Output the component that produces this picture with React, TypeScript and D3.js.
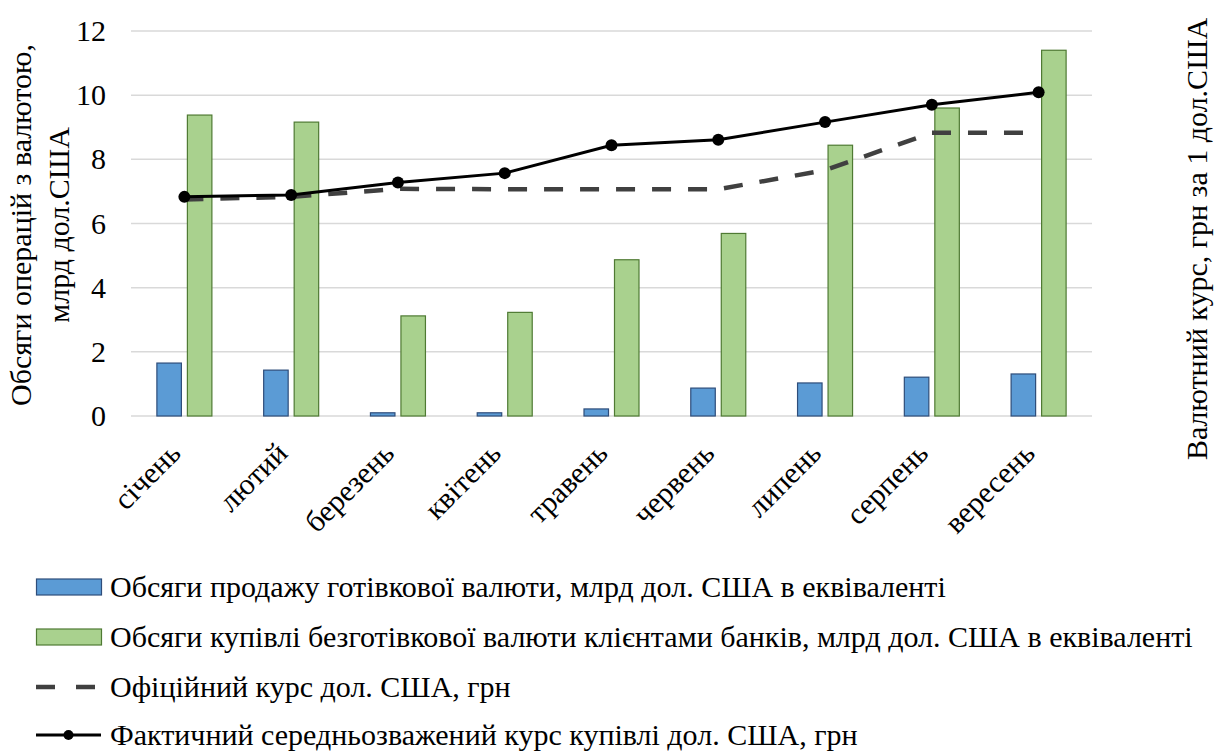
import React from "react";
import * as d3 from "d3";

const months = ["січень", "лютий", "березень", "квітень", "травень", "червень", "липень", "серпень", "вересень"];
const cashSales = [1.65, 1.43, 0.1, 0.1, 0.22, 0.87, 1.03, 1.21, 1.31];
const nonCashPurchases = [9.38, 9.16, 3.12, 3.23, 4.87, 5.69, 8.44, 9.6, 11.4];
const officialRate = [6.75, 6.83, 7.08, 7.07, 7.07, 7.07, 7.66, 8.83, 8.83];
const actualRate = [6.83, 6.89, 7.28, 7.57, 8.44, 8.61, 9.16, 9.7, 10.09];
const yTicks = [0, 2, 4, 6, 8, 10, 12];
const legendLabels = [
  "Обсяги продажу готівкової валюти, млрд дол. США в еквіваленті",
  "Обсяги купівлі безготівкової валюти клієнтами банків, млрд дол. США в еквіваленті",
  "Офіційний курс дол. США, грн",
  "Фактичний середньозважений курс купівлі дол. США, грн",
];

const W = 1230;
const H = 753;
const PL = 131;
const PR = 1092;
const PT = 31;
const PB = 416;
const FONT_STACK = "Liberation Serif";

function T(props: any) {
  const { children, ...rest } = props;
  return (
    <text {...rest} style={{ fontFamily: FONT_STACK }} fill="#000">
      {children}
    </text>
  );
}

export default function App() {
  const x = d3.scaleBand<string>().domain(months).range([PL, PR]).paddingInner(0).paddingOuter(0);
  const y = d3.scaleLinear().domain([0, 12]).range([PB, PT]);
  const bw = 24.5;
  const gap = 6;
  const cx = (m: string) => (x(m) as number) + x.bandwidth() / 2;
  const line = d3
    .line<number>()
    .x((_, i) => cx(months[i]))
    .y((d) => y(d));

  const legendY = [587, 637, 687, 735];

  return (
    <svg width={W} height={H} style={{ position: "absolute", left: 0, top: 0, background: "#fff" }}>
      {yTicks.map((t) => (
        <g key={t}>
          <line x1={PL} x2={PR} y1={y(t)} y2={y(t)} stroke="#d9d9d9" strokeWidth={1.5} />
          <T x={106} y={y(t) + 10} textAnchor="end" fontSize={30}>
            {t}
          </T>
        </g>
      ))}
      {months.map((m, i) => (
        <g key={m}>
          <rect
            x={cx(m) - gap / 2 - bw}
            y={y(cashSales[i])}
            width={bw}
            height={PB - y(cashSales[i])}
            fill="#5b9bd5"
            stroke="#2e4d7a"
            strokeWidth={1.2}
          />
          <rect
            x={cx(m) + gap / 2}
            y={y(nonCashPurchases[i])}
            width={bw}
            height={PB - y(nonCashPurchases[i])}
            fill="#a9d18e"
            stroke="#4f7a33"
            strokeWidth={1.2}
          />
          <T transform={`translate(${cx(m) - 2},${455}) rotate(-45)`} textAnchor="end" fontSize={30}>
            {m}
          </T>
        </g>
      ))}
      <path d={line(officialRate) || ""} fill="none" stroke="#404040" strokeWidth={4.5} strokeDasharray="19 17" />
      <path d={line(actualRate) || ""} fill="none" stroke="#000" strokeWidth={3} />
      {actualRate.map((v, i) => (
        <circle key={i} cx={cx(months[i])} cy={y(v)} r={6} fill="#000" />
      ))}
      <T transform={`translate(31,225) rotate(-90)`} textAnchor="middle" fontSize={30}>
        Обсяги операцій з валютою,
      </T>
      <T transform={`translate(69,225) rotate(-90)`} textAnchor="middle" fontSize={30}>
        млрд дол.США
      </T>
      <T transform={`translate(1207,239) rotate(-90)`} textAnchor="middle" fontSize={30}>
        Валютний курс, грн за 1 дол.США
      </T>
      <rect x={36.5} y={legendY[0] - 8} width={65} height={16} fill="#5b9bd5" stroke="#2e4d7a" strokeWidth={1.2} />
      <rect x={36.5} y={legendY[1] - 8} width={65} height={16} fill="#a9d18e" stroke="#4f7a33" strokeWidth={1.2} />
      <line x1={36} x2={101} y1={legendY[2]} y2={legendY[2]} stroke="#404040" strokeWidth={4.5} strokeDasharray="19 21" />
      <line x1={36} x2={101} y1={legendY[3]} y2={legendY[3]} stroke="#000" strokeWidth={3} />
      <circle cx={68.5} cy={legendY[3]} r={5} fill="#000" />
      {legendLabels.map((l, i) => (
        <T key={i} x={110} y={legendY[i] + 10} fontSize={30}>
          {l}
        </T>
      ))}
    </svg>
  );
}
